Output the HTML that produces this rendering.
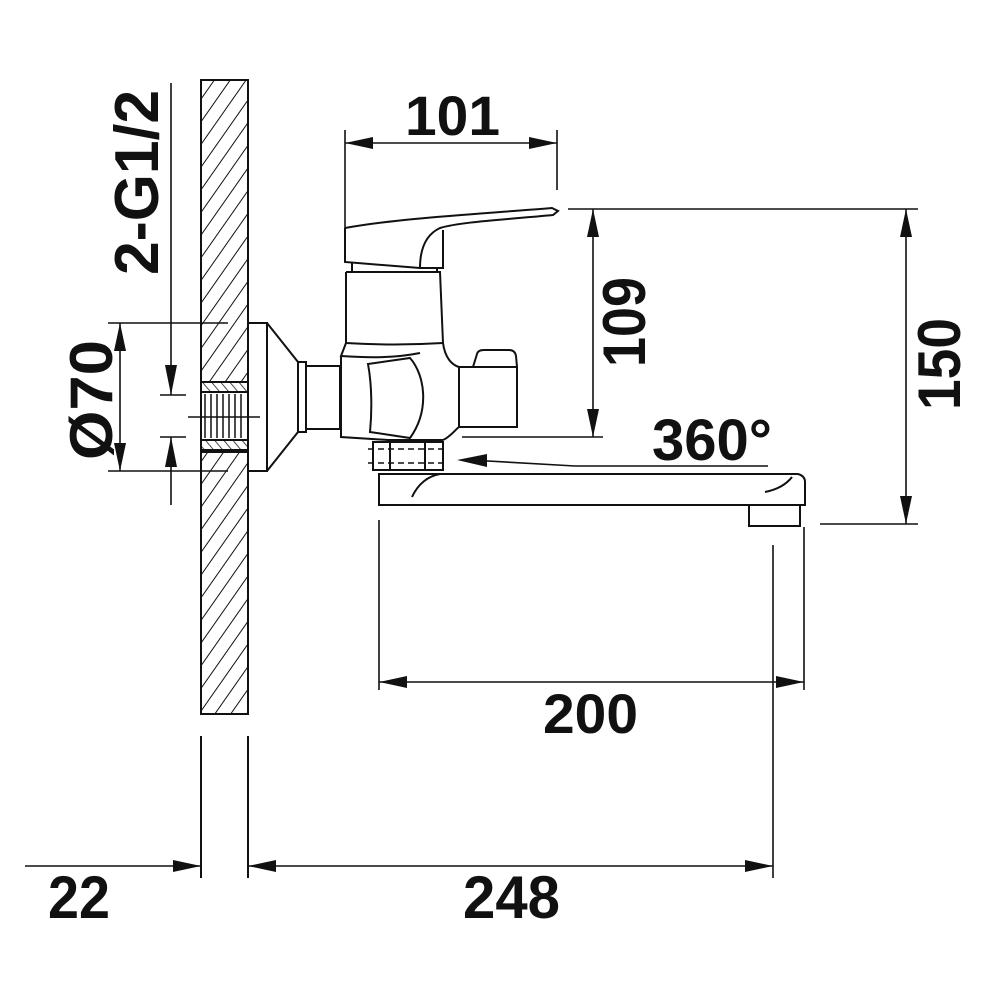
<!DOCTYPE html>
<html><head><style>
html,body{margin:0;padding:0;background:#fff}
svg{display:block}
text{font-family:"Liberation Sans",sans-serif;font-weight:bold;fill:#111}
</style></head><body>
<svg width="1000" height="1000" viewBox="0 0 1000 1000" xmlns="http://www.w3.org/2000/svg">
<defs>
<pattern id="h" patternUnits="userSpaceOnUse" width="13" height="13" patternTransform="rotate(35)">
<line x1="0" y1="0" x2="0" y2="13" stroke="#111" stroke-width="2"/>
</pattern>
<pattern id="h2" patternUnits="userSpaceOnUse" width="7" height="7" patternTransform="rotate(-40)">
<line x1="0" y1="0" x2="0" y2="7" stroke="#111" stroke-width="1.5"/>
</pattern>
</defs>
<g fill="none" stroke="#111" stroke-width="2">
<rect x="201" y="80" width="47" height="634" fill="url(#h)"/>
<rect x="201" y="382" width="47" height="70" fill="#fff"/>
<rect x="201" y="382" width="47" height="10" fill="url(#h2)"/>
<rect x="201" y="440" width="47" height="10" fill="url(#h2)"/>
<path d="M205 394V438M211 394V438M217 394V438M223 394V438M229 394V438M235 394V438M241 394V438" stroke-width="1.5"/>
<line x1="201" y1="736" x2="201" y2="878"/>
<line x1="248" y1="736" x2="248" y2="878"/>
<path d="M248 323H267V471H248"/>
<path d="M267 323L298 362V432L267 471"/>
<rect x="298" y="362" width="8" height="70"/>
<rect x="306" y="366" width="34" height="63"/>
<path d="M345 228C400 218 480 214 552 208L558 211L553 215C500 220 460 222 440 228C425 235 420 250 420 268"/>
<path d="M345 228V262L420 268H443V230"/>
<path d="M352 262V272M437 268V272"/>
<path d="M346 272H440L443 343"/>
<path d="M346 272L346 343C380 345 410 345 443 343"/>
<path d="M346 343L341 356C370 358 395 358 420 353"/>
<path d="M443 343C445 358 452 365 459 367"/>
<path d="M341 356V437L388 440H443"/>
<path d="M368 364L410 358C425 375 430 410 410 438L370 432C372 412 372 385 368 364Z"/>
<path d="M443 440C450 437 455 430 459 427"/>
<rect x="459" y="367" width="58" height="60"/>
<path d="M473 367L477 354Q478 350 484 350H509Q515 350 516 356L517 367"/>
<rect x="373" y="442" width="70" height="28"/>
<line x1="390" y1="442" x2="390" y2="470"/>
<line x1="425" y1="442" x2="425" y2="470"/>
<path d="M368 449H445M368 463H445" stroke-dasharray="6,4" stroke-width="1.5"/>
<path d="M379 474H798Q805 476 805 482V505H379Q379 505 379 500V474Z"/>
<path d="M412 497C418 484 428 476 440 474"/>
<path d="M765 492C775 490 785 486 792 477"/>
<rect x="749" y="505" width="51" height="21"/>
</g>
<g stroke="#111" stroke-width="1.6" fill="none">
<line x1="345" y1="130" x2="345" y2="235"/>
<line x1="557" y1="130" x2="557" y2="190"/>
<line x1="345" y1="143" x2="557" y2="143"/>
<line x1="568" y1="209" x2="918" y2="209"/>
<line x1="462" y1="437" x2="603" y2="437"/>
<line x1="593" y1="209" x2="593" y2="437"/>
<line x1="906" y1="209" x2="906" y2="524"/>
<line x1="820" y1="524" x2="918" y2="524"/>
<line x1="575" y1="466" x2="768" y2="466"/>
<path d="M575 466L470 460"/>
<line x1="379" y1="520" x2="379" y2="690"/>
<line x1="804" y1="527" x2="804" y2="690"/>
<line x1="379" y1="682" x2="804" y2="682"/>
<line x1="773" y1="545" x2="773" y2="878"/>
<line x1="248" y1="866" x2="773" y2="866"/>
<line x1="25" y1="866" x2="201" y2="866"/>
<line x1="108" y1="323" x2="228" y2="323"/>
<line x1="108" y1="471" x2="228" y2="471"/>
<line x1="120" y1="323" x2="120" y2="471"/>
<line x1="171" y1="83" x2="171" y2="395"/>
<line x1="160" y1="395" x2="186" y2="395"/>
<line x1="160" y1="437" x2="186" y2="437"/>
<line x1="171" y1="437" x2="171" y2="505"/>
<line x1="188" y1="417" x2="260" y2="417"/>
</g>
<g fill="#111">
<path d="M345 143l28-6v12z"/><path d="M557 143l-28-6v12z"/>
<path d="M593 209l-6 28h12z"/><path d="M593 437l-6-28h12z"/>
<path d="M906 209l-6 28h12z"/><path d="M906 524l-6-28h12z"/>
<path d="M457 460l30-6v13z"/>
<path d="M379 682l28-6v12z"/><path d="M804 682l-28-6v12z"/>
<path d="M248 866l28-6v12z"/><path d="M773 866l-28-6v12z"/>
<path d="M201 866l-28-6v12z"/>
<path d="M120 323l-6 28h12z"/><path d="M120 471l-6-28h12z"/>
<path d="M171 395l-6-30h12z"/><path d="M171 437l-6 30h12z"/>
</g>
<text x="405" y="135" font-size="56" textLength="95" lengthAdjust="spacingAndGlyphs">101</text>
<text x="543" y="733" font-size="56" textLength="95" lengthAdjust="spacingAndGlyphs">200</text>
<text x="463" y="918" font-size="60" textLength="97" lengthAdjust="spacingAndGlyphs">248</text>
<text x="48" y="918" font-size="60" textLength="62" lengthAdjust="spacingAndGlyphs">22</text>
<text x="652" y="460" font-size="58" textLength="120" lengthAdjust="spacingAndGlyphs">360°</text>
<text transform="translate(645,367) rotate(-90)" font-size="60" textLength="90" lengthAdjust="spacingAndGlyphs">109</text>
<text transform="translate(960,410) rotate(-90)" font-size="60" textLength="92" lengthAdjust="spacingAndGlyphs">150</text>
<text transform="translate(112,460) rotate(-90)" font-size="60" textLength="120" lengthAdjust="spacingAndGlyphs">Ø70</text>
<text transform="translate(158,275) rotate(-90)" font-size="62" textLength="185" lengthAdjust="spacingAndGlyphs">2-G1/2</text>
</svg>
</body></html>
